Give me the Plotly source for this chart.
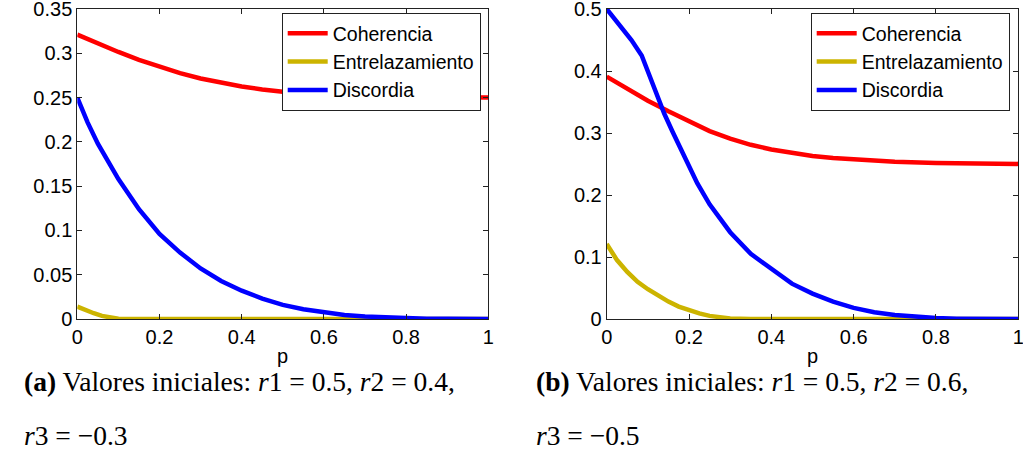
import plotly.graph_objects as go

# ---------------- data ----------------
# Panel (a): r1 = 0.5, r2 = 0.4, r3 = -0.3
p_coh_a = [0, 0.05, 0.1, 0.15, 0.2, 0.25, 0.3, 0.35, 0.4, 0.45, 0.5, 0.6, 0.7, 0.8, 0.9, 1.0]
coh_a = [0.321, 0.311, 0.3015, 0.2925, 0.2845, 0.2775, 0.2715, 0.2665, 0.2625, 0.2592, 0.2565, 0.2532, 0.2515, 0.2507, 0.2503, 0.2501]

p_ent_a = [0, 0.02, 0.04, 0.06, 0.08, 0.1, 0.12, 0.2, 0.4, 0.6, 0.8, 1.0]
ent_a = [0.014, 0.010, 0.0065, 0.0035, 0.0013, 0.0003, 0, 0, 0, 0, 0, 0]

p_dis_a = [0, 0.025, 0.05, 0.075, 0.1, 0.15, 0.2, 0.25, 0.3, 0.35, 0.4, 0.45, 0.5, 0.55, 0.6, 0.65, 0.7, 0.75, 0.8, 0.85, 0.9, 1.0]
dis_a = [0.25, 0.222, 0.198, 0.177, 0.158, 0.124, 0.096, 0.075, 0.057, 0.043, 0.032, 0.023, 0.016, 0.011, 0.0072, 0.0046, 0.0028, 0.0016, 0.0009, 0.0004, 0.0002, 0]

# Panel (b): r1 = 0.5, r2 = 0.6, r3 = -0.5
p_coh_b = [0, 0.05, 0.1, 0.15, 0.2, 0.25, 0.3, 0.35, 0.4, 0.45, 0.5, 0.55, 0.6, 0.7, 0.8, 0.9, 1.0]
coh_b = [0.391, 0.371, 0.352, 0.335, 0.318, 0.303, 0.291, 0.281, 0.2735, 0.2675, 0.263, 0.2595, 0.257, 0.2535, 0.2515, 0.2505, 0.2502]

p_ent_b = [0, 0.025, 0.05, 0.075, 0.1, 0.125, 0.15, 0.175, 0.2, 0.225, 0.25, 0.275, 0.3, 0.35, 0.4, 0.6, 0.8, 1.0]
ent_b = [0.121, 0.095, 0.076, 0.060, 0.048, 0.037, 0.028, 0.020, 0.014, 0.009, 0.005, 0.0025, 0.001, 0.0002, 0, 0, 0, 0]

p_dis_b = [0, 0.02, 0.04, 0.06, 0.085, 0.1, 0.12, 0.14, 0.16, 0.18, 0.2, 0.22, 0.25, 0.3, 0.35, 0.4, 0.45, 0.5, 0.55, 0.6, 0.65, 0.7, 0.75, 0.8, 0.85, 0.9, 1.0]
dis_b = [0.5, 0.484, 0.467, 0.450, 0.425, 0.399, 0.365, 0.331, 0.302, 0.273, 0.245, 0.219, 0.185, 0.140, 0.105, 0.080, 0.057, 0.041, 0.028, 0.018, 0.011, 0.0065, 0.0035, 0.0015, 0.0006, 0.0002, 0]

series_names = ["Coherencia", "Entrelazamiento", "Discordia"]
colors = ["#FF0000", "#CCB400", "#0000FF"]

x_ticks = [0, 0.2, 0.4, 0.6, 0.8, 1]
x_ticktext = ["0", "0.2", "0.4", "0.6", "0.8", "1"]
y_ticks_a = [0, 0.05, 0.1, 0.15, 0.2, 0.25, 0.3, 0.35]
y_ticktext_a = ["0", "0.05", "0.1", "0.15", "0.2", "0.25", "0.3", "0.35"]
y_ticks_b = [0, 0.1, 0.2, 0.3, 0.4, 0.5]
y_ticktext_b = ["0", "0.1", "0.2", "0.3", "0.4", "0.5"]

captions_a = ["<b>(a)</b> Valores iniciales: <i>r</i>1 = 0.5, <i>r</i>2 = 0.4,", "<i>r</i>3 = \u22120.3"]
captions_b = ["<b>(b)</b> Valores iniciales: <i>r</i>1 = 0.5, <i>r</i>2 = 0.6,", "<i>r</i>3 = \u22120.5"]

# ---------------- figure ----------------
W, H = 1023, 456
fig = go.Figure()

panel_a = [(p_coh_a, coh_a), (p_ent_a, ent_a), (p_dis_a, dis_a)]
panel_b = [(p_coh_b, coh_b), (p_ent_b, ent_b), (p_dis_b, dis_b)]

for (xs, ys), name, col in zip(panel_a, series_names, colors):
    fig.add_trace(go.Scatter(x=xs, y=ys, mode="lines", name=name,
                             line=dict(color=col, width=4.5),
                             xaxis="x", yaxis="y", legend="legend"))
for (xs, ys), name, col in zip(panel_b, series_names, colors):
    fig.add_trace(go.Scatter(x=xs, y=ys, mode="lines", name=name,
                             line=dict(color=col, width=4.5),
                             xaxis="x2", yaxis="y2", legend="legend2"))

sans = "Liberation Sans, Arial, sans-serif"
tickfont = dict(family=sans, size=20, color="black")
axis_common = dict(showline=True, linecolor="#222", linewidth=1, mirror="ticks",
                   ticks="inside", ticklen=5, tickcolor="#222", showgrid=False,
                   zeroline=False, tickfont=tickfont, fixedrange=True, automargin=False,
                   ticklabeloverflow="allow")

ydom = [1 - 319 / H, 1 - 9 / H]
legend_common = dict(xanchor="left", yanchor="top", bgcolor="white", bordercolor="#222",
                     borderwidth=1, font=dict(family=sans, size=19.5, color="black"),
                     tracegroupgap=0, xref="paper", yref="paper", itemwidth=40)
fig.update_layout(
    template="none",
    width=W, height=H,
    margin=dict(l=0, r=0, t=0, b=0, pad=0, autoexpand=False),
    paper_bgcolor="white", plot_bgcolor="white",
    xaxis=dict(domain=[77.3 / W, 488.3 / W], range=[0, 1], tickvals=x_ticks, ticktext=x_ticktext,
               anchor="y", **axis_common),
    yaxis=dict(domain=ydom, range=[0, 0.35], tickvals=y_ticks_a, ticktext=y_ticktext_a,
               anchor="x", **axis_common),
    xaxis2=dict(domain=[606.7 / W, 1018.3 / W], range=[0, 1], tickvals=x_ticks, ticktext=x_ticktext,
                anchor="y2", **axis_common),
    yaxis2=dict(domain=ydom, range=[0, 0.5], tickvals=y_ticks_b, ticktext=y_ticktext_b,
                anchor="x2", **axis_common),
    legend=dict(x=281.7 / W, y=1 - 13 / H, **legend_common),
    legend2=dict(x=810.7 / W, y=1 - 13 / H, **legend_common),
    showlegend=True,
)

annots = []
# axis labels "p"
for xc in [(77.3 + 488.3) / 2 / W, (606.7 + 1018.3) / 2 / W]:
    annots.append(dict(text="p", x=xc, y=1 - 356 / H, xref="paper", yref="paper",
                       xanchor="center", yanchor="middle", showarrow=False,
                       font=dict(family=sans, size=20, color="black")))
# captions
capfont = dict(family="Liberation Serif, Times New Roman, serif", size=27.5, color="black")
for x0, caps in [(22 / W, captions_a), (534 / W, captions_b)]:
    annots.append(dict(text=caps[0], x=x0, y=1 - 381 / H, xref="paper", yref="paper",
                       xanchor="left", yanchor="middle", showarrow=False, font=capfont))
    annots.append(dict(text=caps[1], x=x0, y=1 - 435 / H, xref="paper", yref="paper",
                       xanchor="left", yanchor="middle", showarrow=False, font=capfont))
fig.update_layout(annotations=annots)

fig.write_html("out.html")
